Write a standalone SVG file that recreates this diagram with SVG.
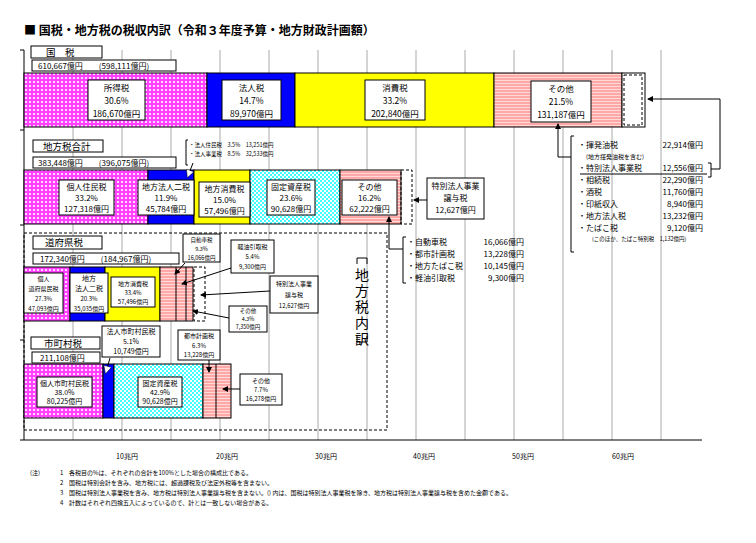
<svg xmlns="http://www.w3.org/2000/svg" width="756" height="543" viewBox="0 0 756 543">
<style>
text{font-family:"Noto Sans CJK JP","Noto Sans",sans-serif;fill:#000}
.m{text-anchor:middle}
.e{text-anchor:end}
.f10{font-size:9.5px}
.f9{font-size:8.5px}
.f8{font-size:8px}
.f7{font-size:7px}
.f6{font-size:6px}
.f5{font-size:5.5px}
.box{fill:#fff;stroke:#000;stroke-width:1}
.grid{stroke:#aaa;stroke-width:1}
.bar{stroke:#000;stroke-width:1}
.ln{stroke:#000;stroke-width:1;fill:none}
.dash{stroke:#000;stroke-width:1;fill:none;stroke-dasharray:3,2}
</style>
<defs>
<pattern id="dots" width="4" height="4" patternUnits="userSpaceOnUse"><rect width="4" height="4" fill="#ff40ff"/><circle cx="2" cy="2" r="1.1" fill="#fff"/></pattern>
<pattern id="hatch" width="4" height="3" patternUnits="userSpaceOnUse"><rect width="4" height="3" fill="#ffa8a8"/><rect y="2" width="4" height="1" fill="#ffd8d8"/></pattern>
<pattern id="chk" width="4" height="4" patternUnits="userSpaceOnUse"><rect width="4" height="4" fill="#fff"/><rect width="2" height="2" fill="#40ffff"/><rect x="2" y="2" width="2" height="2" fill="#40ffff"/></pattern>
<marker id="ah" markerWidth="6" markerHeight="6" refX="5" refY="3" orient="auto"><path d="M0,0L6,3L0,6z" fill="#000"/></marker>
<marker id="aw" markerWidth="8" markerHeight="8" refX="6" refY="4" orient="auto"><path d="M0,0L8,4L0,8z" fill="#fff" stroke="#000" stroke-width="0.5"/></marker>
</defs>
<rect width="756" height="543" fill="#fff"/>
<g id="grid">
<path class="grid" d="M73,50V440M122,50V440M171,50V440M220,50V440M269,50V440M318,50V440M367,50V440M416,50V440M465,50V440M514,50V440M563,50V440M612,50V440M661,50V440"/>
<path class="ln" d="M24,50V440M20,50H24M20,130H24M20,225H24M20,340H24M20,440H702"/>
<text class="f7 m" x="127" y="459">10兆円</text><text class="f7 m" x="227" y="459">20兆円</text><text class="f7 m" x="326" y="459">30兆円</text><text class="f7 m" x="424" y="459">40兆円</text><text class="f7 m" x="523" y="459">50兆円</text><text class="f7 m" x="623" y="459">60兆円</text>
</g>
<text x="24" y="35" style="font-size:12px;font-weight:bold">■ 国税・地方税の税収内訳（令和３年度予算・地方財政計画額）</text>
<g id="kokuzei">
<rect class="box" x="31" y="46" width="71" height="12"/><text class="f10" x="46" y="56">国　税</text>
<rect class="box" x="32" y="60" width="144" height="11"/><text class="f8" x="38" y="69">610,667億円　　(598,111億円)</text>
<rect class="bar" x="24" y="73" width="183" height="54" fill="url(#dots)"/>
<rect class="bar" x="207" y="73" width="88" height="54" fill="#0000ff"/>
<rect class="bar" x="295" y="73" width="199" height="54" fill="#ffff00"/>
<rect class="bar" x="494" y="73" width="128" height="54" fill="url(#hatch)"/>
<rect x="622" y="73" width="23" height="54" fill="#fff" stroke="#000"/>
<rect class="dash" x="624" y="75" width="18" height="50"/>
</g>
<g id="n-shotoku"><rect class="box" x="88" y="80" width="57" height="40"/><text class="f9 m" x="116.5" y="91">所得税</text><text class="f9 m" x="116.5" y="104">30.6%</text><text class="f9 m" x="116.5" y="117">186,670億円</text></g>
<g id="n-hojin"><rect class="box" x="222" y="80" width="59" height="40"/><text class="f9 m" x="251.5" y="91">法人税</text><text class="f9 m" x="251.5" y="104">14.7%</text><text class="f9 m" x="251.5" y="117">89,970億円</text></g>
<g id="n-shohi"><rect class="box" x="365" y="80" width="60" height="40"/><text class="f9 m" x="395" y="91">消費税</text><text class="f9 m" x="395" y="104">33.2%</text><text class="f9 m" x="395" y="117">202,840億円</text></g>
<g id="n-sonota"><rect class="box" x="531" y="81" width="60" height="41"/><text class="f9 m" x="561" y="92">その他</text><text class="f9 m" x="561" y="105">21.5%</text><text class="f9 m" x="561" y="118">131,187億円</text></g>
<g id="list-koku">
<path class="ln" d="M574,136H571V252H574"/>
<text class="f8" x="578" y="148">・揮発油税</text><text class="f8 e" x="703" y="148">22,914億円</text>
<text class="f6" x="586" y="159">(地方揮発油税を含む)</text>
<text class="f8" x="578" y="171">・特別法人事業税</text><text class="f8 e" x="703" y="171">12,556億円</text>
<path class="ln" d="M580,174H707M708,163H711V177H708"/>
<text class="f8" x="578" y="183">・相続税</text><text class="f8 e" x="703" y="183">22,290億円</text>
<text class="f8" x="578" y="195">・酒税</text><text class="f8 e" x="703" y="195">11,760億円</text>
<text class="f8" x="578" y="207">・印紙収入</text><text class="f8 e" x="703" y="207">8,940億円</text>
<text class="f8" x="578" y="219">・地方法人税</text><text class="f8 e" x="703" y="219">13,232億円</text>
<text class="f8" x="578" y="231">・たばこ税</text><text class="f8 e" x="703" y="231">9,120億円</text>
<text class="f5" x="592" y="241">(このほか、たばこ特別税　1,132億円)</text>
</g>
<g id="chihou">
<rect class="box" x="33" y="140" width="70" height="12"/><text class="f10" x="43" y="150">地方税合計</text>
<rect class="box" x="33" y="157" width="143" height="11"/><text class="f8" x="38" y="166">383,448億円　　(396,075億円)</text>
<rect class="bar" x="24" y="170" width="124" height="54" fill="url(#dots)"/>
<rect class="bar" x="148" y="170" width="46" height="54" fill="#0000ff"/>
<rect class="bar" x="194" y="170" width="56" height="54" fill="#ffff00"/>
<rect class="bar" x="250" y="170" width="90" height="54" fill="url(#chk)"/>
<rect class="bar" x="340" y="170" width="61" height="54" fill="url(#hatch)"/>
<rect class="dash" x="401" y="170" width="11" height="54" fill="#99ccff"/>
</g>
<g id="l-kojin"><rect class="box" x="59" y="180" width="55" height="35"/><text class="f8 m" x="86.5" y="190">個人住民税</text><text class="f8 m" x="86.5" y="201">33.2%</text><text class="f8 m" x="86.5" y="212">127,318億円</text></g>
<g id="l-hojin2"><rect class="box" x="138" y="180" width="56" height="35"/><text class="f8 m" x="166" y="190">地方法人二税</text><text class="f8 m" x="166" y="201">11.9%</text><text class="f8 m" x="166" y="212">45,784億円</text></g>
<g id="l-shohi"><rect class="box" x="199" y="182" width="51" height="35"/><text class="f8 m" x="224.5" y="192">地方消費税</text><text class="f8 m" x="224.5" y="203">15.0%</text><text class="f8 m" x="224.5" y="214">57,496億円</text></g>
<g id="l-kotei"><rect class="box" x="267" y="180" width="48" height="35"/><text class="f8 m" x="291" y="190">固定資産税</text><text class="f8 m" x="291" y="201">23.6%</text><text class="f8 m" x="291" y="212">90,628億円</text></g>
<g id="l-sonota"><rect class="box" x="342" y="180" width="55" height="35"/><text class="f8 m" x="369.5" y="190">その他</text><text class="f8 m" x="369.5" y="201">16.2%</text><text class="f8 m" x="369.5" y="212">62,222億円</text></g>
<g id="l-note"><path class="ln" d="M188,140H186V165H188"/><text class="f5" x="189" y="147">・法人住民税　3.5%　13,251億円</text><text class="f5" x="189" y="156">・法人事業税　8.5%　32,533億円</text></g>
<g id="l-joyo"><rect class="box" x="427" y="178" width="57" height="41"/><text class="f8 m" x="455.5" y="189">特別法人事業</text><text class="f8 m" x="455.5" y="201">譲与税</text><text class="f8 m" x="455.5" y="213">12,627億円</text></g>
<g id="list-chiho">
<path class="ln" d="M406,237H403V283H406"/>
<text class="f8" x="407" y="245">・自動車税</text><text class="f8 e" x="524" y="245">16,066億円</text>
<text class="f8" x="407" y="257">・都市計画税</text><text class="f8 e" x="524" y="257">13,228億円</text>
<text class="f8" x="407" y="269">・地方たばこ税</text><text class="f8 e" x="524" y="269">10,145億円</text>
<text class="f8" x="407" y="281">・軽油引取税</text><text class="f8 e" x="524" y="281">9,300億円</text>
</g>
<rect id="uchiwake" class="dash" x="24" y="233" width="363" height="197"/>
<g id="uchiwake-label">
<path class="ln" d="M357,264V258H367V264M357,336V342H367V336"/>
<text x="362" y="268" style="font-size:14px;writing-mode:vertical-rl;letter-spacing:2px">地方税内訳</text>
</g>
<g id="dofuken">
<rect class="box" x="33" y="236" width="69" height="13"/><text class="f10" x="45" y="246">道府県税</text>
<rect class="box" x="33" y="253" width="146" height="11"/><text class="f8" x="40" y="262">172,340億円　　(184,967億円)</text>
<rect class="bar" x="24" y="267" width="46" height="54" fill="url(#dots)"/>
<rect class="bar" x="70" y="267" width="35" height="54" fill="#0000ff"/>
<rect class="bar" x="105" y="267" width="55" height="54" fill="#ffff00"/>
<rect class="bar" x="160" y="267" width="33" height="54" fill="url(#hatch)"/>
<path class="ln" d="M176,267V321M186,267V321"/>
<rect class="dash" x="194" y="267" width="11" height="54" fill="#99ccff"/>
</g>
<g id="d-kojin"><rect class="box" x="24" y="273" width="39" height="40"/><text class="f6 m" x="43.5" y="281">個人</text><text class="f6 m" x="43.5" y="291">道府県民税</text><text class="f6 m" x="43.5" y="301">27.3%</text><text class="f6 m" x="43.5" y="311">47,093億円</text></g>
<g id="d-hojin"><rect class="box" x="70" y="273" width="38" height="40"/><text class="f7 m" x="89" y="281">地方</text><text class="f7 m" x="89" y="291">法人二税</text><text class="f6 m" x="89" y="301">20.3%</text><text class="f6 m" x="89" y="311">35,035億円</text></g>
<g id="d-shohi"><rect class="box" x="111" y="277" width="44" height="30"/><text class="f6 m" x="133" y="286">地方消費税</text><text class="f6 m" x="133" y="295">33.4%</text><text class="f6 m" x="133" y="304">57,496億円</text></g>
<g id="d-jidosha"><rect class="box" x="183" y="234" width="37" height="28"/><text class="f5 m" x="201.5" y="242">自動車税</text><text class="f5 m" x="201.5" y="251">9.3%</text><text class="f5 m" x="201.5" y="260">16,066億円</text></g>
<g id="d-keiyu"><rect class="box" x="231" y="240" width="43" height="33"/><text class="f6 m" x="252.5" y="249">軽油引取税</text><text class="f6 m" x="252.5" y="259">5.4%</text><text class="f6 m" x="252.5" y="269">9,300億円</text></g>
<g id="d-joyo"><rect class="box" x="270" y="276" width="48" height="37"/><text class="f6 m" x="294" y="286">特別法人事業</text><text class="f6 m" x="294" y="297">譲与税</text><text class="f6 m" x="294" y="308">12,627億円</text></g>
<g id="d-sonota"><rect class="box" x="229" y="306" width="38" height="26"/><text class="f5 m" x="248" y="313">その他</text><text class="f5 m" x="248" y="321">4.3%</text><text class="f5 m" x="248" y="329">7,350億円</text></g>
<g id="shichoson">
<rect class="box" x="31" y="337" width="69" height="12"/><text class="f10" x="44" y="347">市町村税</text>
<rect class="box" x="32" y="352" width="68" height="11"/><text class="f8" x="40" y="361">211,108億円</text>
<rect class="bar" x="24" y="364" width="79" height="54" fill="url(#dots)"/>
<rect class="bar" x="103" y="364" width="11" height="54" fill="#0000ff"/>
<rect class="bar" x="114" y="364" width="89" height="54" fill="url(#chk)"/>
<rect class="bar" x="203" y="364" width="28" height="54" fill="url(#hatch)"/>
<path class="ln" d="M216,364V418"/>
</g>
<g id="s-kojin"><rect class="box" x="37" y="377" width="55" height="30"/><text class="f7 m" x="64.5" y="386">個人市町村民税</text><text class="f7 m" x="64.5" y="395">38.0%</text><text class="f7 m" x="64.5" y="404">80,225億円</text></g>
<g id="s-kotei"><rect class="box" x="138" y="377" width="44" height="30"/><text class="f7 m" x="160" y="386">固定資産税</text><text class="f7 m" x="160" y="395">42.9%</text><text class="f7 m" x="160" y="404">90,628億円</text></g>
<g id="s-hojin"><rect class="box" x="102" y="326" width="58" height="31"/><text class="f7 m" x="131" y="334">法人市町村民税</text><text class="f7 m" x="131" y="344">5.1%</text><text class="f7 m" x="131" y="354">10,749億円</text></g>
<g id="s-toshi"><rect class="box" x="178" y="330" width="42" height="30"/><text class="f6 m" x="199" y="338">都市計画税</text><text class="f6 m" x="199" y="348">6.3%</text><text class="f6 m" x="199" y="357">13,228億円</text></g>
<g id="s-sonota"><rect class="box" x="240" y="374" width="42" height="31"/><text class="f6 m" x="261" y="383">その他</text><text class="f6 m" x="261" y="392">7.7%</text><text class="f6 m" x="261" y="401">16,278億円</text></g>
<g id="connectors">
<path class="ln" d="M558,157V124" marker-end="url(#ah)"/>
<path class="ln" d="M571,157H558"/>
<path class="ln" d="M711,169H720V99H648" marker-end="url(#ah)"/>
<path class="ln" d="M427,200H414" marker-end="url(#ah)"/>
<path class="ln" d="M403,249H389V217" marker-end="url(#ah)"/>
<path class="ln" d="M193,163L188,176" marker-end="url(#aw)"/>
<path class="ln" d="M185,263L175,274" marker-end="url(#ah)"/>
<path class="ln" d="M231,268L182,284" marker-end="url(#ah)"/>
<path class="ln" d="M270,291L201,295" marker-end="url(#ah)"/>
<path class="ln" d="M229,318L193,311" marker-end="url(#ah)"/>
<path class="ln" d="M110,358L106,372" marker-end="url(#aw)"/>
<path class="ln" d="M209,360V372" marker-end="url(#ah)"/>
<path class="ln" d="M240,389H223" marker-end="url(#ah)"/>
</g>
<g id="notes">
<text class="f6" x="30" y="475">(注)</text>
<text class="f6" x="60" y="475">1</text><text class="f6" x="69" y="475">各税目の%は、それぞれの合計を100%とした場合の構成比である。</text>
<text class="f6" x="60" y="485">2</text><text class="f6" x="69" y="485">国税は特別会計を含み、地方税には、超過課税及び法定外税等を含まない。</text>
<text class="f6" x="60" y="495">3</text><text class="f6" x="69" y="495">国税は特別法人事業税を含み、地方税は特別法人事業譲与税を含まない。() 内は、国税は特別法人事業税を除き、地方税は特別法人事業譲与税を含めた金額である。</text>
<text class="f6" x="60" y="505">4</text><text class="f6" x="69" y="505">計数はそれぞれ四捨五入によっているので、計とは一致しない場合がある。</text>
</g>
</svg>
